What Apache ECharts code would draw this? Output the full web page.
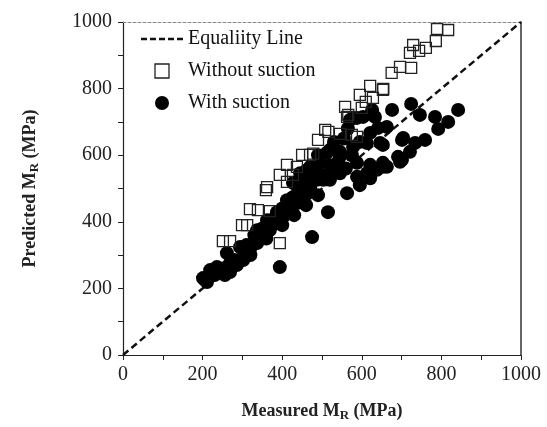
<!DOCTYPE html>
<html><head><meta charset="utf-8">
<script src="https://cdn.jsdelivr.net/npm/echarts@6/dist/echarts.min.js"></script>
<style>html,body{margin:0;padding:0;background:#fff}#c{width:547px;height:427px}</style>
</head><body><div id="c"></div>
<script>
var xTicks = [0, 200, 400, 600, 800, 1000];
var yTicks = [0, 200, 400, 600, 800, 1000];
var equalityLine = [[0, 0], [1000, 1000]];
var withoutSuction = [
[789,979],[817,976],[786,943],[729,931],[744,913],[721,907],[761,922],[675,847],[696,865],[724,862],
[654,799],[621,808],[653,796],[595,781],[628,772],[558,745],[566,721],[600,742],[508,676],[516,670],
[490,646],[545,664],[575,661],[588,655],[450,601],[470,601],[437,565],[427,541],[412,571],[394,541],
[412,520],[359,495],[362,504],[319,438],[339,435],[369,432],[299,390],[312,390],[251,342],[269,342],
[394,336],[478,605],[563,715],[610,760]
];
var withSuction = [
[201,231],[206,225],[211,219],[219,255],[236,264],[244,255],[256,240],[261,306],[269,249],[269,276],
[286,270],[294,324],[302,285],[302,294],[319,315],[337,336],[337,345],[337,375],[352,354],[362,405],
[369,375],[369,384],[387,396],[387,429],[394,264],[402,414],[412,465],[420,435],[427,474],[437,456],
[452,474],[470,504],[487,526],[475,354],[445,526],[462,555],[427,517],[445,546],[470,565],[495,577],
[470,495],[503,526],[520,526],[515,429],[528,556],[537,556],[520,616],[512,607],[545,595],[545,610],
[545,546],[563,486],[578,625],[588,577],[588,535],[595,510],[595,640],[612,637],[613,546],[621,531],
[621,571],[621,667],[638,556],[646,637],[653,565],[653,577],[653,631],[663,565],[641,682],[663,685],
[691,595],[696,580],[701,586],[701,646],[704,652],[721,610],[734,637],[759,646],[792,679],[817,700],
[842,736],[784,715],[746,721],[724,754],[676,736],[626,736],[603,715],[578,712],[588,712],[570,706],
[633,715],[310,330],[330,360],[350,380],[380,410],[400,440],[420,460],[440,480],[400,390],[430,420],
[460,450],[490,480],[360,350],[320,300],[280,285],[250,260],[230,240],[440,500],[460,520],[480,550],
[500,540],[520,570],[540,580],[560,560],[490,600],[530,640],[555,650],[565,680],[575,600]
];
var names = ['Equaliity Line', 'Without suction', 'With suction'];

var serif = 'Liberation Serif';
var chart = echarts.init(document.getElementById('c'), null, {renderer: 'canvas'});
var plain = function (v) { return String(v); };
var axisCommon = {
  min: 0, max: 1000, interval: 200,
  axisLine: {show: true, onZero: false, lineStyle: {color: '#222', width: 1.2}},
  axisTick: {show: true, inside: false, length: 5, lineStyle: {color: '#222'}},
  minorTick: {show: true, splitNumber: 2, length: 5, lineStyle: {color: '#222'}},
  splitLine: {show: false}
};
var nameRich = {
  sub: {fontFamily: serif, fontSize: 13, fontWeight: 'bold', color: '#222', verticalAlign: 'bottom', padding: [8, 0, 0, 0]}
};
chart.setOption({
  animation: false,
  backgroundColor: '#fff',
  grid: {left: 123, right: 26, top: 22, bottom: 72},
  legend: {
    orient: 'vertical', left: 136, top: 24, itemWidth: 42, itemHeight: 14, itemGap: 12,
    textStyle: {fontFamily: serif, fontSize: 20, color: '#111'},
    data: [
      {name: names[0], icon: 'path://M0,0h6v2.4h-6z M9,0h6v2.4h-6z M18,0h6v2.4h-6z M27,0h6v2.4h-6z M36,0h6v2.4h-6z', itemStyle: {color: '#111', borderWidth: 0}},
      {name: names[1], icon: 'path://M0,0h12v12h-12z', itemStyle: {color: 'rgba(255,255,255,0)', borderColor: '#222', borderWidth: 1.3}},
      {name: names[2], icon: 'circle', itemStyle: {color: '#000', borderWidth: 0}}
    ]
  },
  xAxis: [
    Object.assign({}, axisCommon, {
      type: 'value', position: 'bottom',
      name: 'Measured M{sub|R} (MPa)', nameLocation: 'middle', nameGap: 46,
      nameTextStyle: {fontFamily: serif, fontSize: 18, fontWeight: 'bold', color: '#222', rich: nameRich},
      axisLabel: {fontFamily: serif, fontSize: 20, color: '#222', margin: 10, formatter: plain}
    }),
    {type: 'value', position: 'top', min: 0, max: 1000, interval: 200,
     axisLine: {show: true, onZero: false, lineStyle: {color: '#888', width: 1, type: [3, 2]}},
     axisTick: {show: false}, axisLabel: {show: false}, splitLine: {show: false}}
  ],
  yAxis: [
    Object.assign({}, axisCommon, {
      type: 'value', position: 'left',
      name: 'Predicted M{sub|R} (MPa)', nameLocation: 'middle', nameGap: 82, nameRotate: 90,
      nameTextStyle: {fontFamily: serif, fontSize: 18, fontWeight: 'bold', color: '#222', rich: nameRich},
      axisLabel: {fontFamily: serif, fontSize: 20, color: '#222', margin: 11, formatter: plain}
    }),
    {type: 'value', position: 'right', min: 0, max: 1000, interval: 200,
     axisLine: {show: true, onZero: false, lineStyle: {color: '#333', width: 1.5}},
     axisTick: {show: false}, axisLabel: {show: false}, splitLine: {show: false}}
  ],
  series: [
    {name: names[0], type: 'line', data: equalityLine, showSymbol: false, symbol: 'none',
     lineStyle: {color: '#111', width: 2.5, type: [7, 4]}, z: 1},
    {name: names[1], type: 'scatter', data: withoutSuction, symbol: 'rect', symbolSize: 11,
     itemStyle: {color: 'rgba(255,255,255,0)', borderColor: '#222', borderWidth: 1.3, opacity: 1}, z: 3},
    {name: names[2], type: 'scatter', data: withSuction, symbol: 'circle', symbolSize: 14,
     itemStyle: {color: '#000', opacity: 1}, z: 2}
  ]
});
</script></body></html>
